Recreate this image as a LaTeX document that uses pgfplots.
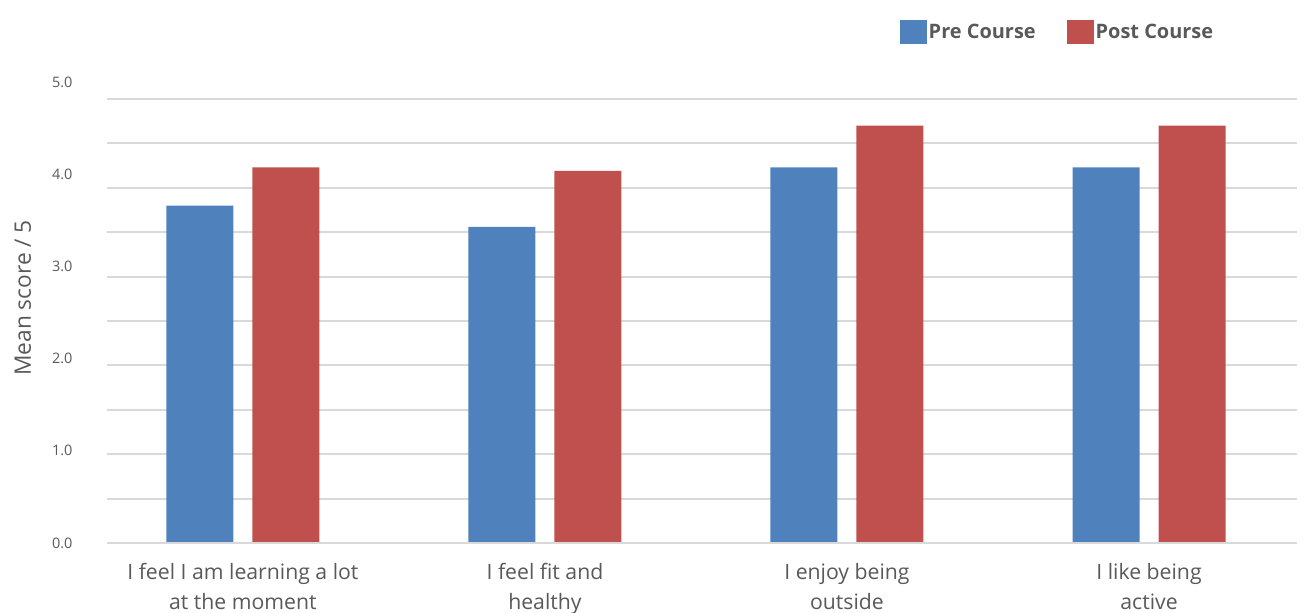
\documentclass[border=0pt]{standalone}
\usepackage{pgfplots}
\pgfplotsset{compat=1.18}
\usepackage{fontspec}
\setmainfont{Open Sans}
\definecolor{preC}{HTML}{4F81BD}
\definecolor{postC}{HTML}{C0504D}
\definecolor{gridC}{HTML}{D9D9D9}
\definecolor{txtC}{HTML}{595959}
\begin{document}
\begin{tikzpicture}
\path[use as bounding box] (-107bp,-70bp) rectangle (1204bp,543bp);
\begin{axis}[
  scale only axis,
  width=1190bp, height=444bp,
  ymin=0, ymax=5,
  xmin=-0.45, xmax=3.49,
  ybar,
  bar width=67bp,
  axis line style={draw=none},
  axis x line*=bottom,
  ytick={0,1,2,3,4,5},
  minor ytick={0.5,1.5,2.5,3.5,4.5},
  grid=both,
  major grid style={gridC, line width=2bp},
  minor grid style={gridC, line width=2bp},
  xmajorgrids=false, xminorgrids=false,
  major tick length=0pt, minor tick length=0pt,
  xtick={0,1,2,3},
  xticklabels={{I feel I am learning a lot\\at the moment},{I feel fit and\\healthy},{I enjoy being\\outside},{I like being\\active}},
  x tick label style={align=center, font=\fontsize{21.3}{29.5}\selectfont, text=txtC, yshift=-17bp},
  yticklabel={\pgfmathprintnumber[fixed,fixed zerofill,precision=1]{\tick}},
  y tick label style={font=\fontsize{14.5}{17}\selectfont, text=txtC, xshift=-31bp, yshift={3.4*\tick}},
  /pgf/number format/assume math mode=true,
  ylabel={Mean score / 5},
  ylabel style={at={(axis description cs:-0.0706,0.552)}, anchor=center, font=\fontsize{22.8}{26}\selectfont, text=txtC},
  legend style={at={(axis description cs:0.666,1.151)}, anchor=west, draw=none, fill=none, inner sep=0pt,
    nodes={inner sep=2bp, font=\bfseries\fontsize{20}{22}\selectfont, text=txtC},
    /tikz/every even column/.append style={column sep=29bp}},
  legend columns=2,
  legend image code/.code={\fill[#1] (0bp,-12bp) rectangle (27bp,12bp);},
  clip=false,
]
\addplot[fill=preC, draw=none, bar shift=-43bp] coordinates {(0,3.80) (1,3.56) (2,4.23) (3,4.23)};
\addplot[fill=postC, draw=none, bar shift=43bp] coordinates {(0,4.23) (1,4.19) (2,4.70) (3,4.70)};
\legend{Pre Course, Post Course}
\draw[gridC, line width=2bp] (axis cs:-0.45,0) -- (axis cs:3.49,0);
\end{axis}
\end{tikzpicture}
\end{document}
